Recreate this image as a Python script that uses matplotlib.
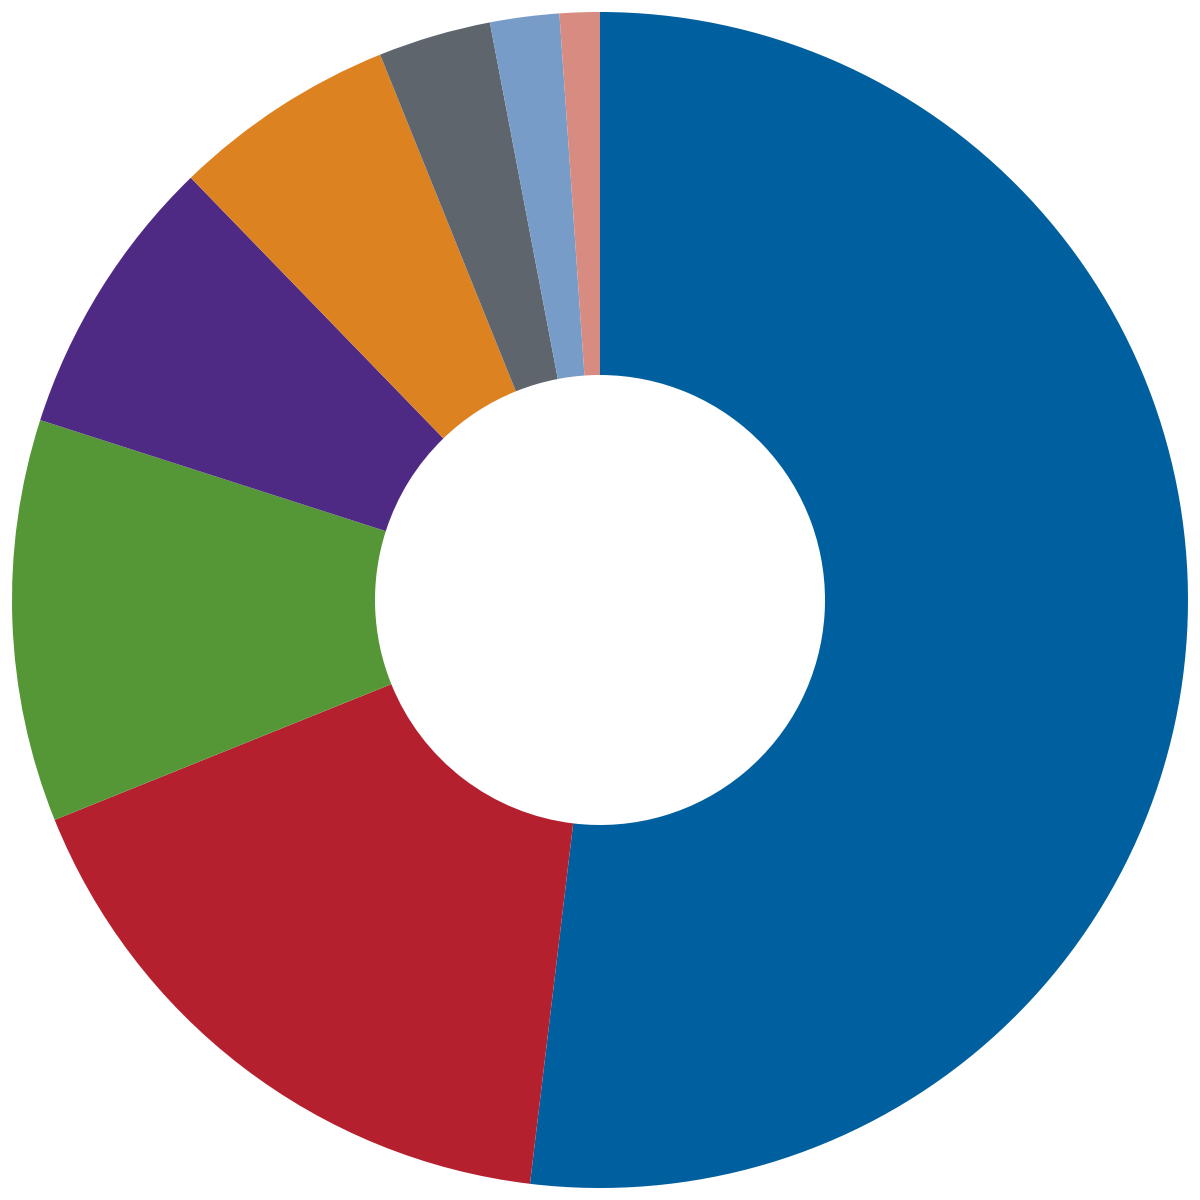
import matplotlib
matplotlib.use('Agg')
import matplotlib.pyplot as plt

# Shares, clockwise from 12 o'clock
labels = ['A', 'B', 'C', 'D', 'E', 'F', 'G', 'H']
values = [51.9, 17.0, 11.05, 7.8, 6.15, 3.1, 1.9, 1.1]
colors = ['#005f9e', '#b5202f', '#559636', '#4e2a84',
          '#dd8220', '#5f656d', '#779cc8', '#d88b80']

fig = plt.figure(figsize=(12, 12), dpi=100)
ax = fig.add_axes([0, 0, 1, 1])

ax.pie(values, colors=colors, startangle=90, counterclock=False,
       radius=0.98, wedgeprops=dict(width=0.98 - 0.375, linewidth=0))

ax.set_xlim(-1, 1)
ax.set_ylim(-1, 1)
ax.set_aspect('equal')
ax.axis('off')

fig.savefig('out.png', dpi=100, facecolor='white')
